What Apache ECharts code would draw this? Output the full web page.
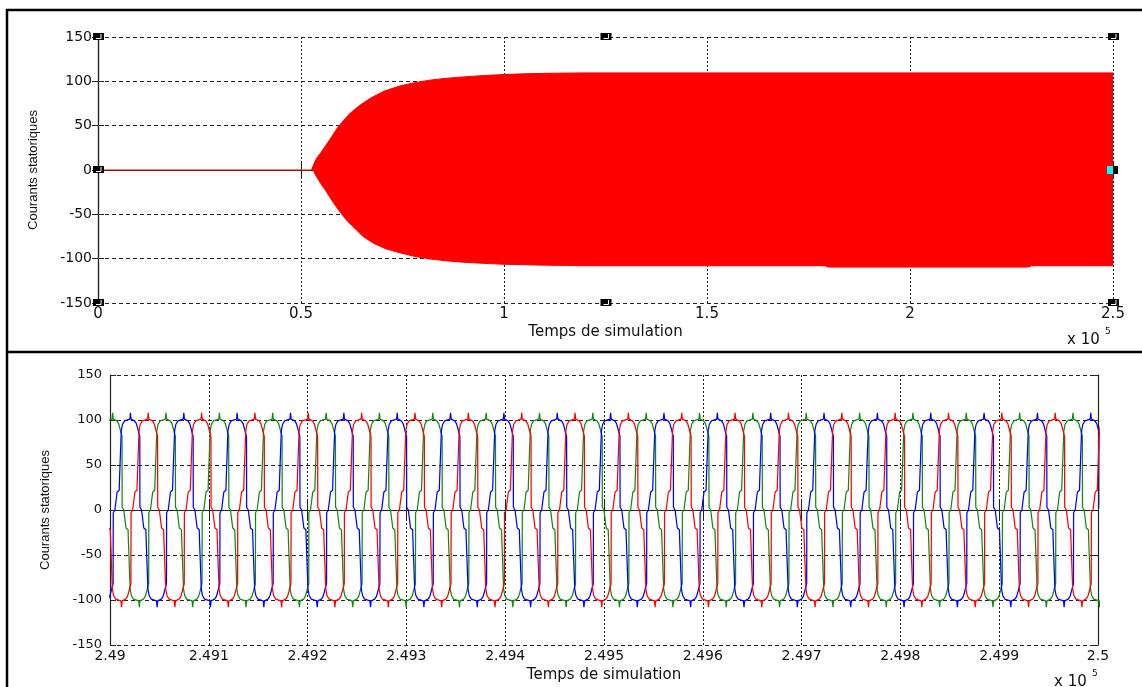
<!DOCTYPE html>
<html>
<head>
<meta charset="utf-8">
<script src="https://cdn.jsdelivr.net/npm/echarts@6/dist/echarts.min.js"></script>
<style>
  html, body { margin: 0; padding: 0; background: #fff; }
  #chart { width: 1142px; height: 687px; }
</style>
</head>
<body>
<div id="chart"></div>
<script>
// ---- Top panel: envelope of the stator currents over the whole run (time in simulation units) ----
const runRange = [0, 250000];
const runTickStep = 50000;
const currentTicks = [-150, -100, -50, 0, 50, 100, 150];

// Current is zero until the machine is started
const idleTime = [0, 52800];
const idleValue = [0, 0];

// Upper and lower envelopes of the oscillating current
const upperTime = [52600, 53200, 53800, 54800, 56000, 57200, 58900, 60500, 62100, 64500, 67100, 70500, 74500,
                   78000, 82000, 86000, 90000, 95000, 100000, 105000, 110000, 120000, 250000];
const upperValue = [0, 7, 13, 19, 27, 35, 47, 56, 64, 73, 81, 89, 95,
                    98.5, 101.5, 103.5, 105, 106.5, 107.7, 108.5, 109, 109.5, 109.5];
const lowerTime = [53000, 53600, 54300, 55100, 56000, 57000, 58000, 59700, 61500, 63300, 65300, 68000, 71000, 74500,
                   78000, 82000, 86000, 90000, 95000, 100000, 110000, 120000, 179000, 180000, 229000, 230000, 250000];
const lowerValue = [0, -6, -11, -17, -22.5, -30, -37, -48, -58, -66, -75, -83, -89, -93.5,
                    -97.5, -100.5, -102.5, -104, -105.3, -106.3, -107.3, -108, -108, -109.5, -109.5, -108, -108];

// ---- Bottom panel: last part of the run, three phase currents ----
const zoomRange = [249000, 250000];
const zoomTickStep = 100;

// One electrical cycle of a phase current: angle (deg) from its positive peak, current value
const cycleDeg = [0, 4, 12, 28, 40, 50, 56, 63, 64, 75, 88, 90, 104, 106, 117, 118, 126, 140, 152, 176,
                  180, 184, 192, 208, 220, 230, 236, 243, 244, 255, 268, 270, 284, 286, 297, 298, 306, 320, 332, 356];
const cycleVal = [108, 101, 100, 99, 96, 90, 86, 82, 3, 0, -2, -20, -22, -33, -35, -88, -95, -99, -100, -101,
                  -108, -101, -100, -99, -96, -90, -86, -82, -3, 0, 2, 20, 22, 33, 35, 88, 95, 99, 100, 101];
const cyclePeriod = 54;
const phaseNames = ['ia', 'ib', 'ic'];
const phaseColors = ['#128a12', '#0000ff', '#ff0000'];
const phaseFirstPeak = [249002.7, 249020.7, 249038.7];

function phaseData(peak0) {
  const pts = [];
  for (let k = -2; k <= 20; k++) {
    const p = peak0 + k * cyclePeriod;
    cycleDeg.forEach((d, i) => {
      const t = p + d / 360 * cyclePeriod;
      if (t >= zoomRange[0] - 60 && t <= zoomRange[1] + 60) pts.push([t, cycleVal[i]]);
    });
  }
  return pts;
}
const zip = (a, b) => a.map((v, i) => [v, b[i]]);
const fmtTime = v => String(+(v / 1e5).toFixed(3));

const TXT = '#111';
const FONT = 'DejaVu Sans';
const hDash = { color: '#222', type: [4, 3], width: 1 };
const vDot = { color: '#222', type: [2, 2], width: 1 };
const axisLn = { show: true, lineStyle: { color: '#222', width: 1.2 } };

function xAxisPair(grid, range, step, labelSize, nameGap, topLine, tickLen) {
  return [
    {
      type: 'value', gridIndex: grid, position: 'bottom', min: range[0], max: range[1], interval: step,
      axisLine: axisLn, axisTick: { show: true, inside: true, length: tickLen, lineStyle: { color: '#222' } },
      axisLabel: { formatter: fmtTime, color: TXT, fontFamily: FONT, fontSize: labelSize, margin: 4 },
      splitLine: { show: true, lineStyle: vDot },
      name: 'Temps de simulation', nameLocation: 'middle', nameGap: nameGap,
      nameTextStyle: { color: TXT, fontFamily: FONT, fontSize: 15 }
    },
    {
      type: 'value', gridIndex: grid, position: 'top', min: range[0], max: range[1], interval: step,
      axisLine: topLine ? axisLn : { show: false },
      axisTick: { show: true, inside: true, length: tickLen, lineStyle: { color: '#222' } },
      axisLabel: { show: false }, splitLine: { show: false }
    }
  ];
}
function yAxisPair(grid, labelSize, margin, nameGap) {
  return [
    {
      type: 'value', gridIndex: grid, position: 'left',
      min: currentTicks[0], max: currentTicks[currentTicks.length - 1], interval: currentTicks[1] - currentTicks[0],
      axisLine: axisLn, axisTick: { show: true, inside: true, length: 6, lineStyle: { color: '#222' } },
      axisLabel: { color: TXT, fontFamily: FONT, fontSize: labelSize, margin: margin },
      splitLine: { show: true, lineStyle: hDash },
      name: 'Courants statoriques', nameLocation: 'middle', nameGap: nameGap, nameRotate: 90,
      nameTextStyle: { color: TXT, fontFamily: 'Liberation Sans', fontSize: 13 }
    },
    {
      type: 'value', gridIndex: grid, position: 'right',
      min: currentTicks[0], max: currentTicks[currentTicks.length - 1], interval: currentTicks[1] - currentTicks[0],
      axisLine: axisLn, axisTick: { show: true, inside: true, length: 6, lineStyle: { color: '#222' } },
      axisLabel: { show: false }, splitLine: { show: false }
    }
  ];
}

const chart = echarts.init(document.getElementById('chart'), null, { renderer: 'canvas' });

const phaseSeries = phaseNames.map((n, i) => ({
  name: n, type: 'line', xAxisIndex: 2, yAxisIndex: 2,
  data: phaseData(phaseFirstPeak[i]), showSymbol: false, clip: true,
  lineStyle: { color: phaseColors[i], width: 1.25 }, z: 3 + i
}));

chart.setOption({
  animation: false,
  backgroundColor: '#fff',
  grid: [
    { left: 98, top: 37, width: 1015, height: 266 },
    { left: 110, top: 375, width: 988, height: 270 }
  ],
  xAxis: [
    ...xAxisPair(0, runRange, runTickStep, 15, 22, false, 7),
    ...xAxisPair(1, zoomRange, zoomTickStep, 14, 23, true, 9)
  ],
  yAxis: [
    ...yAxisPair(0, 14, 6, 58),
    ...yAxisPair(1, 13, 8, 58)
  ],
  series: [
    {
      name: 'idle', type: 'line', xAxisIndex: 0, yAxisIndex: 0, data: zip(idleTime, idleValue),
      showSymbol: false, lineStyle: { color: '#ff0000', width: 1 }
    },
    {
      name: 'upper', type: 'line', xAxisIndex: 0, yAxisIndex: 0, data: zip(upperTime, upperValue),
      showSymbol: false, lineStyle: { color: '#ff0000', width: 1 },
      areaStyle: { color: '#ff0000', opacity: 1 }
    },
    {
      name: 'lower', type: 'line', xAxisIndex: 0, yAxisIndex: 0, data: zip(lowerTime, lowerValue),
      showSymbol: false, lineStyle: { color: '#ff0000', width: 1 },
      areaStyle: { color: '#ff0000', opacity: 1 }
    },
    ...phaseSeries
  ]
});

// Figure frame, exponent labels and the selection handles of the top axes
const g = [];
const frame = { stroke: '#000', lineWidth: 2.5 };
g.push({ type: 'line', shape: { x1: 6, y1: 10, x2: 1142, y2: 10 }, style: frame, z: 100 });
g.push({ type: 'line', shape: { x1: 7, y1: 9, x2: 7, y2: 687 }, style: frame, z: 100 });
g.push({ type: 'line', shape: { x1: 6, y1: 352, x2: 1142, y2: 352 }, style: frame, z: 100 });

function expLabel(x, y) {
  g.push({ type: 'text', x: x, y: y, style: { text: 'x 10', fill: TXT, font: '15px "DejaVu Sans"', textAlign: 'left', textVerticalAlign: 'middle' }, z: 100 });
  g.push({ type: 'text', x: x + 38, y: y - 8, style: { text: '5', fill: TXT, font: '9px "DejaVu Sans"', textAlign: 'left', textVerticalAlign: 'middle' }, z: 100 });
}
expLabel(1067, 340);
expLabel(1054, 682);

const handleSpots = [[0, 150], [125000, 150], [250000, 150], [0, 0], [250000, 0], [0, -150], [125000, -150], [250000, -150]];
handleSpots.forEach(([t, v], i) => {
  const [px, py] = chart.convertToPixel({ xAxisIndex: 0, yAxisIndex: 0 }, [t, v]);
  if (i === 4) {
    g.push({ type: 'rect', shape: { x: px - 6, y: py - 4, width: 6, height: 8 }, style: { fill: '#00ffff' }, z: 101 });
    g.push({ type: 'rect', shape: { x: px, y: py - 4, width: 5, height: 8 }, style: { fill: '#000' }, z: 101 });
  } else {
    g.push({ type: 'rect', shape: { x: px - 5, y: py - 4, width: 11, height: 7 }, style: { fill: '#000' }, z: 101 });
    g.push({ type: 'polyline', shape: { points: [[px + 3, py - 3], [px + 3, py + 1.5], [px - 2, py + 1.5]] }, style: { stroke: '#fff', lineWidth: 1, fill: null }, z: 102 });
  }
});
chart.setOption({ graphic: g });
</script>
</body>
</html>
